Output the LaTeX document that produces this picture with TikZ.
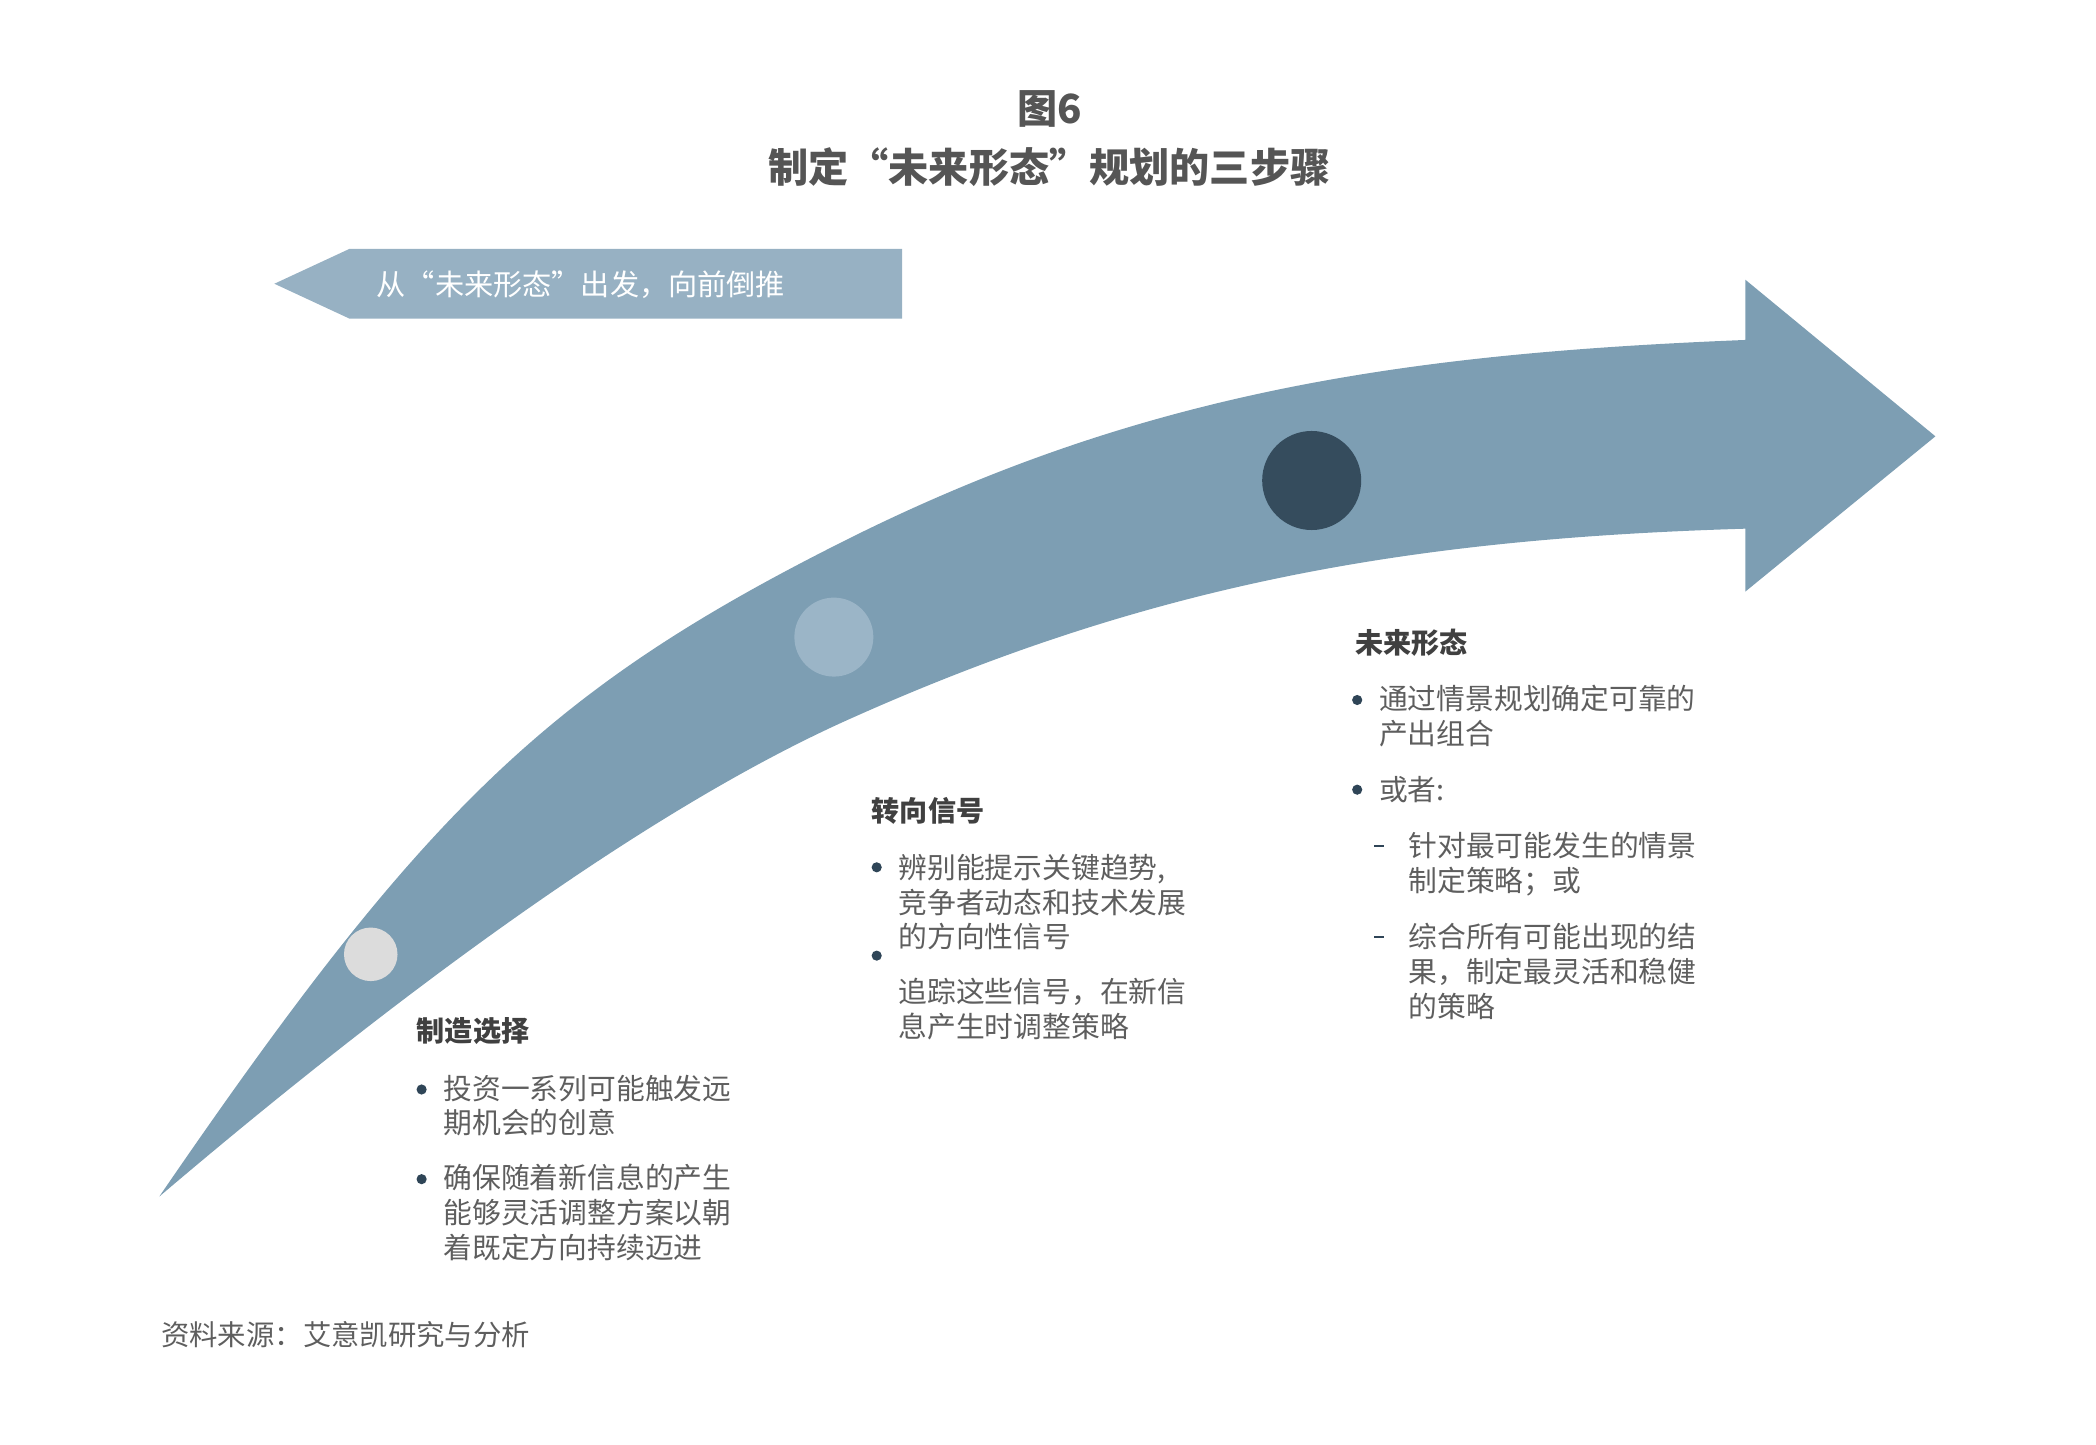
\documentclass[tikz,border=0pt]{standalone}
\usepackage{fontspec}
\setmainfont{Noto Sans CJK SC}
\newfontfamily\cjk{Noto Sans CJK SC}

\definecolor{arrowblue}{HTML}{7D9EB3}
\definecolor{bannerblue}{HTML}{97B1C3}
\definecolor{midblue}{HTML}{9BB5C7}
\definecolor{deepblue}{HTML}{354C5D}
\definecolor{palegray}{HTML}{DCDCDC}
\definecolor{dotblue}{HTML}{2F4557}
\definecolor{titlegray}{HTML}{555555}
\definecolor{headgray}{HTML}{404040}
\definecolor{bodygray}{HTML}{5E5E5E}

\tikzset{
    titletext/.style={anchor=base, inner sep=0pt, font=\cjk\bfseries\fontsize{15}{18}\selectfont, text=titlegray},
    headtext/.style={anchor=base west, inner sep=0pt, font=\cjk\bfseries\fontsize{10.5}{13}\selectfont, text=headgray},
    itemtext/.style={anchor=base west, inner sep=0pt, text width=130pt, align=left, font=\cjk\fontsize{10.75}{13}\selectfont, text=bodygray},
    bulletdot/.style={circle, fill=dotblue, inner sep=0pt, minimum size=3.8pt},
    dashmark/.style={rectangle, fill=dotblue, inner sep=0pt, minimum width=3.7pt, minimum height=1pt},
    stepdot/.style={circle, inner sep=0pt}
}

\begin{document}
\begin{tikzpicture}[x=0.5pt, y=-0.5pt]
    \useasboundingbox (0,0) rectangle (1566,1079);

    %Place title nodes
    \node[titletext] (fig-no) at (784,92) {图6};
    \node[titletext] (title) at (784,136.4) {制定“未来形态”规划的三步骤};

    %Draw banner arrow and its text
    \fill[bannerblue] (205,212) -- (261,186) -- (674,186) -- (674,238) -- (261,238) -- cycle;
    \node[anchor=base west, inner sep=0pt, font=\cjk\fontsize{10.9}{13}\selectfont, text=white] (banner) at (281,220.8) {从“未来形态”出发，向前倒推};

    %Draw main arrow
    \fill[arrowblue] (119,894) .. controls (317,605) and (409.5,514.8) .. (633,403)
        .. controls (856.5,291.3) and (1054,264) .. (1304,254)
        -- (1304,209) -- (1446,326) -- (1304,442) -- (1304,395)
        .. controls (1054,402.5) and (861,435.5) .. (633,538)
        .. controls (468.8,611.8) and (271.4,764.4) .. (119,894) -- cycle;

    %Place step dots
    \node[stepdot, fill=palegray, minimum size=20pt] (choice-dot) at (277,713) {};
    \node[stepdot, fill=midblue, minimum size=29.5pt] (signal-dot) at (623,476) {};
    \node[stepdot, fill=deepblue, minimum size=37pt] (future-dot) at (980,359) {};

    %Place first step text
    \node[headtext] (choice) at (311,778) {制造选择};
    \node[bulletdot] (choice-b1) at (315,814) {};
    \node[itemtext] (choice-1) at (331,821.2) {投资一系列可能触发远\\期机会的创意};
    \node[bulletdot] (choice-b2) at (315,881) {};
    \node[itemtext] (choice-2) at (331,888.2) {确保随着新信息的产生\\能够灵活调整方案以朝\\着既定方向持续迈进};

    %Place second step text
    \node[headtext] (signal) at (651,614) {转向信号};
    \node[bulletdot] (signal-b1) at (655,648) {};
    \node[itemtext] (signal-1) at (671,656.2) {辨别能提示关键趋势,\\竞争者动态和技术发展\\的方向性信号};
    \node[bulletdot] (signal-b2) at (655,714) {};
    \node[itemtext] (signal-2) at (671,749.2) {追踪这些信号，在新信\\息产生时调整策略};

    %Place third step text
    \node[headtext] (future) at (1012,488) {未来形态};
    \node[bulletdot] (future-b1) at (1014,523) {};
    \node[itemtext] (future-1) at (1030,530.2) {通过情景规划确定可靠的\\产出组合};
    \node[bulletdot] (future-b2) at (1014,590) {};
    \node[itemtext] (future-2) at (1030,598.2) {或者:};
    \node[dashmark] (future-d1) at (1030,632) {};
    \node[itemtext] (future-2a) at (1052,640.2) {针对最可能发生的情景\\制定策略；或};
    \node[dashmark] (future-d2) at (1030,700) {};
    \node[itemtext] (future-2b) at (1052,708.2) {综合所有可能出现的结\\果，制定最灵活和稳健\\的策略};

    %Place source note
    \node[anchor=base west, inner sep=0pt, font=\cjk\fontsize{10.6}{13}\selectfont, text=bodygray] (source) at (120,1005.4) {资料来源：艾意凯研究与分析};
\end{tikzpicture}
\end{document}
